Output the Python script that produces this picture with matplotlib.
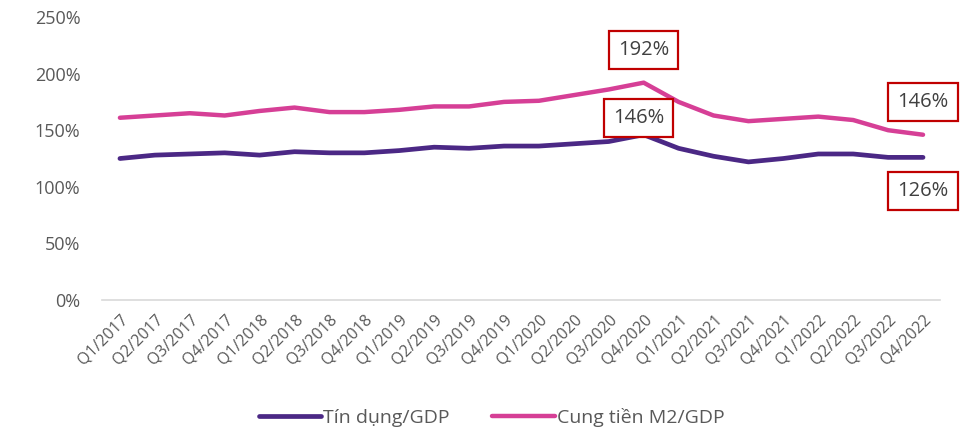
import matplotlib.pyplot as plt

plt.rcParams.update({
    "font.family": ["Open Sans", "DejaVu Sans"],
    "font.stretch": "normal",
    "text.color": "#595959",
    "xtick.color": "#595959",
    "ytick.color": "#595959",
})

PURPLE = "#4B2885"
PINK = "#D63F96"
BOX_RED = "#C00000"

quarters = [
    "Q1/2017", "Q2/2017", "Q3/2017", "Q4/2017",
    "Q1/2018", "Q2/2018", "Q3/2018", "Q4/2018",
    "Q1/2019", "Q2/2019", "Q3/2019", "Q4/2019",
    "Q1/2020", "Q2/2020", "Q3/2020", "Q4/2020",
    "Q1/2021", "Q2/2021", "Q3/2021", "Q4/2021",
    "Q1/2022", "Q2/2022", "Q3/2022", "Q4/2022",
]
credit_gdp = [125, 128, 129, 130, 128, 131, 130, 130, 132, 135, 134, 136,
              136, 138, 140, 146, 134, 127, 122, 125, 129, 129, 126, 126]
m2_gdp = [161, 163, 165, 163, 167, 170, 166, 166, 168, 171, 171, 175,
          176, 181, 186, 192, 175, 163, 158, 160, 162, 159, 150, 146]

fig = plt.figure(figsize=(9.64, 4.36), dpi=100)
ax = fig.add_axes([0.1063, 0.3119, 0.8693, 0.6491])

x = list(range(len(quarters)))
ax.plot(x, credit_gdp, color=PURPLE, lw=3.4, solid_capstyle="round",
        label="Tín dụng/GDP")
ax.plot(x, m2_gdp, color=PINK, lw=3.2, solid_capstyle="round",
        label="Cung tiền M2/GDP")

ax.set_xlim(-0.5, len(quarters) - 0.5)
ax.set_ylim(0, 250)
ax.set_yticks([0, 50, 100, 150, 200, 250])
ax.set_yticklabels([f"{v}%" for v in [0, 50, 100, 150, 200, 250]], fontsize=13)
ax.set_xticks(x)
ax.set_xticklabels(quarters, rotation=45, ha="right", rotation_mode="anchor",
                   fontsize=11.5)
ax.tick_params(length=0)
ax.tick_params(axis="y", pad=16)
ax.tick_params(axis="x", pad=8)

for s in ["top", "right", "left"]:
    ax.spines[s].set_visible(False)
ax.spines["bottom"].set_color("#D9D9D9")
ax.spines["bottom"].set_linewidth(1.2)

box = dict(boxstyle="square,pad=0.45", fc="white", ec=BOX_RED, lw=1.6)
notes = [
    (15, 221, "192%"),
    (14.85, 161, "146%"),
    (23, 175, "146%"),
    (23, 96, "126%"),
]
for nx, ny, txt in notes:
    ax.text(nx, ny, txt, ha="center", va="center", fontsize=14.5,
            fontfamily="Open Sans", fontstretch="normal",
            color="#404040", bbox=box, clip_on=False)

fig.legend(*ax.get_legend_handles_labels(), loc="upper center",
           bbox_to_anchor=(0.51, 0.105), ncol=2, frameon=False, fontsize=14,
           handlelength=3.2, handletextpad=0.1, columnspacing=2.2)

fig.savefig("out.png", dpi=100)
